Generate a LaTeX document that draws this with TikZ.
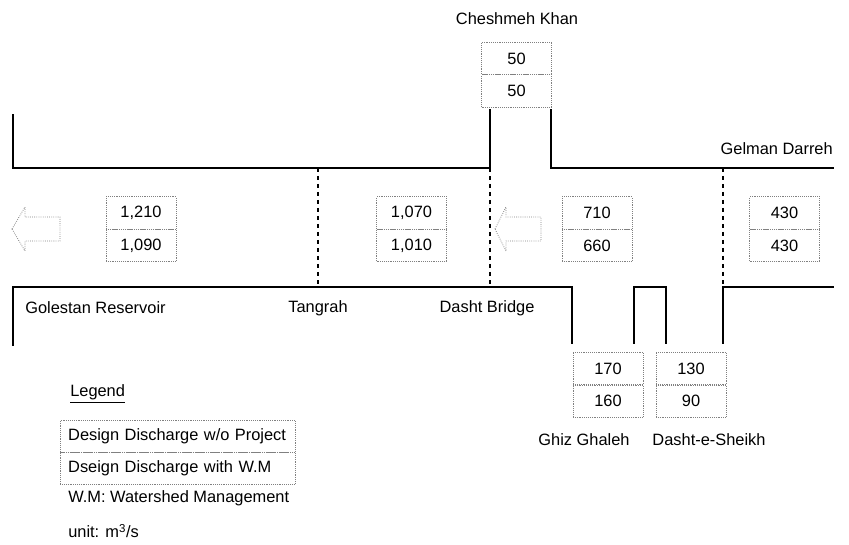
\documentclass[tikz,border=0pt]{standalone}
\usepackage{fontspec}
\setmainfont{Liberation Sans}
\begin{document}
\begin{tikzpicture}[x=0.75pt,y=-0.75pt,
  wall/.style={line width=2.2pt,line cap=rect},
  sect/.style={dashed,line width=1pt},
  cell/.style={draw=gray,densely dotted,minimum width=52.5pt,minimum height=24.4pt,inner sep=0pt,font=\fontsize{12.3}{14}\selectfont},
  lab/.style={inner sep=0pt,font=\fontsize{12.3}{14}\selectfont},
  legcell/.style={draw=gray,densely dotted,minimum width=176pt,minimum height=24pt,inner ysep=0pt,inner xsep=6pt,text width=164pt,align=left,font=\fontsize{12.3}{14}\selectfont},
  flow/.style={draw=gray,densely dotted,line width=0.6pt}]
\useasboundingbox (0,0) rectangle (849,545);
% walls
\draw[wall] (13,115) -- (13,168) -- (490,168) -- (490,110);
\draw[wall] (551,110) -- (551,168) -- (833,168);
\draw[wall] (13,345) -- (13,287) -- (572,287) -- (572,343);
\draw[wall] (634,343) -- (634,287) -- (666,287) -- (666,343);
\draw[wall] (723,343) -- (723,287) -- (833,287);
% section lines
\coordinate (t1) at (318,168); \coordinate (t2) at (318,287);
\coordinate (d1) at (490,168); \coordinate (d2) at (490,287);
\coordinate (g1) at (723,168); \coordinate (g2) at (723,287);
\draw[sect] (t1) -- (t2);
\draw[sect] (d1) -- (d2);
\draw[sect] (g1) -- (g2);
% flow arrows
\draw[flow] (12,229) -- (25,207) -- (25,217) -- (60,217) -- (60,241) -- (25,241) -- (25,251) -- cycle;
\draw[flow] (495,229) -- (506,207) -- (506,217) -- (541,217) -- (541,241) -- (506,241) -- (506,251) -- cycle;
% boxes
\node[cell] (a1) at (141,213) {1,210};
\node[cell] (a2) at (141,245.5) {1,090};
\node[cell] (b1) at (411.5,213) {1,070};
\node[cell] (b2) at (411.5,245.5) {1,010};
\node[cell] (c1) at (597,213) {710};
\node[cell] (c2) at (597,245.5) {660};
\node[cell] (e1) at (784.5,213) {430};
\node[cell] (e2) at (784.5,245.5) {430};
\node[cell] (k1) at (516.5,58.5) {50};
\node[cell] (k2) at (516.5,91) {50};
\node[cell] (f1) at (608,368.5) {170};
\node[cell] (f2) at (608,401) {160};
\node[cell] (s1) at (691,368.5) {130};
\node[cell] (s2) at (691,401) {90};
% labels
\node[lab] (lk) at (517,19) {Cheshmeh Khan};
\node[lab,anchor=east] (lg) at (833,149) {Gelman Darreh};
\node[lab,anchor=west] (lr) at (25,308) {Golestan Reservoir};
\node[lab] (lt) at (318,308) {Tangrah};
\node[lab] (ld) at (487,308) {Dasht Bridge};
\node[lab] (lgh) at (584,440) {Ghiz Ghaleh};
\node[lab] (lds) at (709,440) {Dasht-e-Sheikh};
% legend
\node[lab,anchor=west] (leg) at (70,394) {\underline{Legend}};
\node[legcell] (l1) at (177.5,436) {Design Discharge w/o Project};
\node[legcell] (l2) at (177.5,468) {Dseign Discharge with W.M};
\node[lab,anchor=west] (wm) at (68,498) {W.M: Watershed Management};
\node[lab,anchor=west] (un) at (68,531) {unit: m\textsuperscript{3}/s};
\end{tikzpicture}
\end{document}
